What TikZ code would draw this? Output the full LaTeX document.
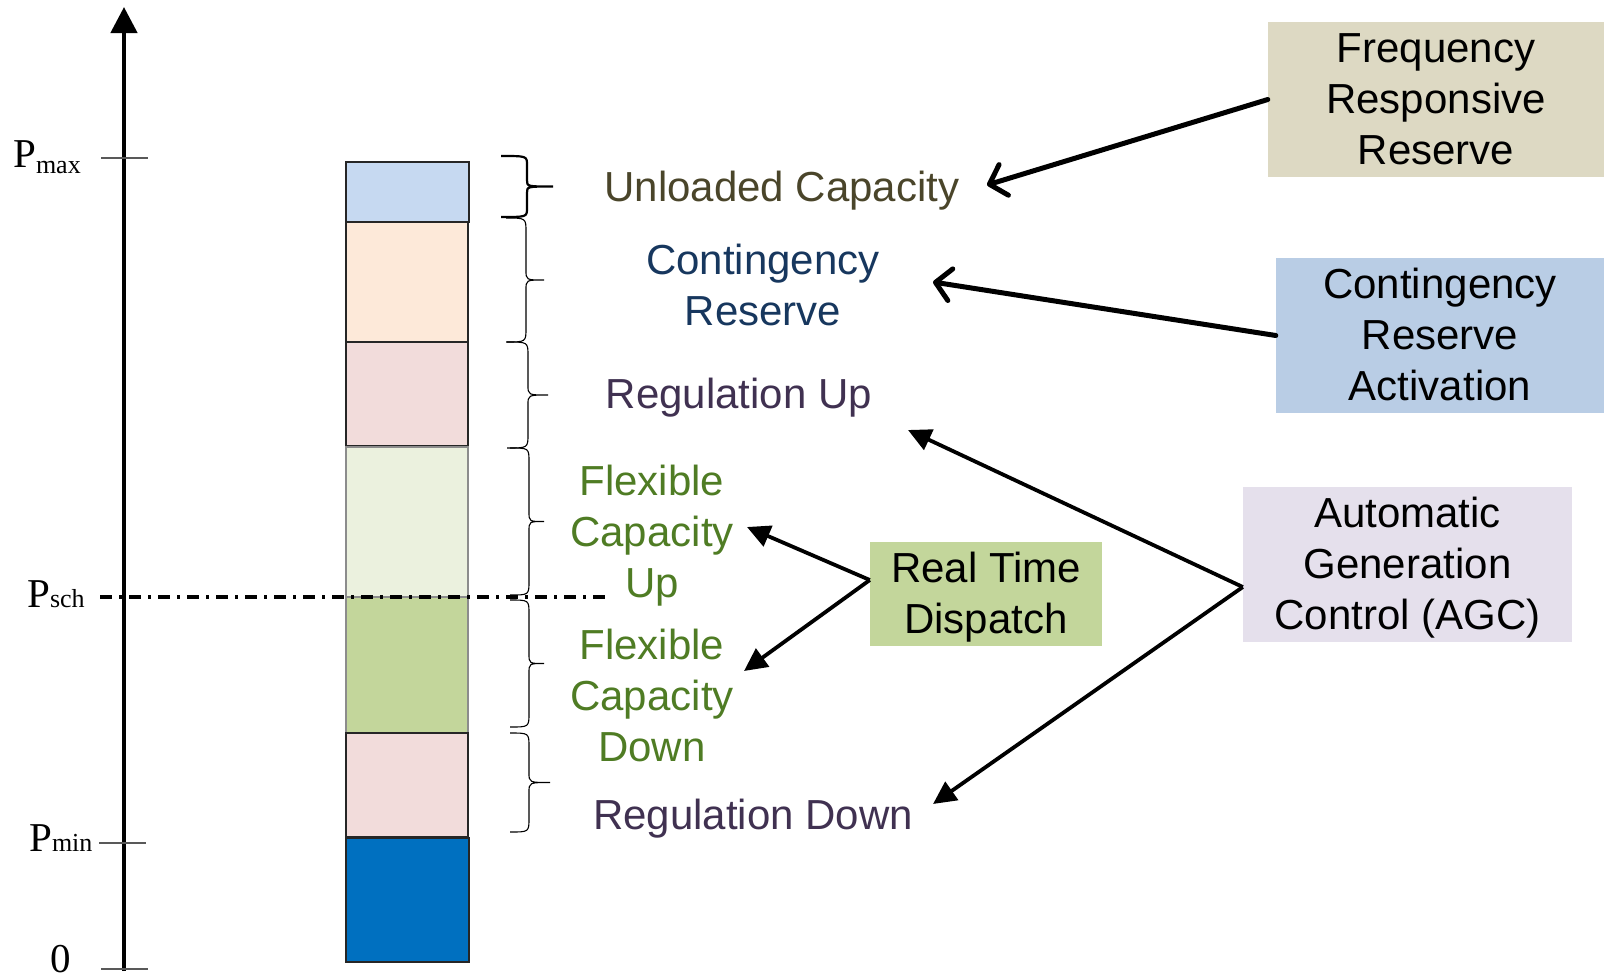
\documentclass[tikz,border=0pt]{standalone}
\usepackage{fontspec}
\setmainfont{Liberation Sans}
\newfontfamily\seriffont{Liberation Serif}
\usetikzlibrary{arrows.meta}

% band fills
\definecolor{capblue}{HTML}{C6D9F1}
\definecolor{peach}{HTML}{FDE9D9}
\definecolor{rose}{HTML}{F2DCDB}
\definecolor{palegreen}{HTML}{EBF1DE}
\definecolor{midgreen}{HTML}{C3D69B}
\definecolor{deepblue}{HTML}{0070C0}
% side boxes
\definecolor{tanbox}{HTML}{DDD9C3}
\definecolor{steelbox}{HTML}{B9CDE5}
\definecolor{lilacbox}{HTML}{E5E0EC}
% label colours
\definecolor{olivetext}{HTML}{4A452A}
\definecolor{navytext}{HTML}{17375E}
\definecolor{plumtext}{HTML}{403151}
\definecolor{greentext}{HTML}{4F7C24}

% P with a subscript lowered by #1
\newcommand{\plab}[2][0pt]{P\raisebox{-#1}{\fontsize{26}{26}\selectfont #2}}

% centred lines inside a process box, set slightly below the box centre
\newcommand{\boxtext}[1]{\raisebox{-4pt}[\height][\depth]{\begin{tabular}{@{}c@{}}#1\end{tabular}}}

% right-pointing curly brace: [opts]{x left}{x spine}{x tip}{top}{bottom}{end radius}
\newcommand{\sidebrace}[7][]{%
  \pgfmathsetmacro\bmid{(#5+#6)/2}%
  \draw[#1] (#2,#5) .. controls (#3,#5) .. (#3,#5+#7)
    -- (#3,\bmid-0.7*#7) .. controls (#3,\bmid) .. (#4,\bmid)
    .. controls (#3,\bmid) .. (#3,\bmid+0.7*#7)
    -- (#3,#6-#7) .. controls (#3,#6) .. (#2,#6);}

\begin{document}
\begin{tikzpicture}[x=1pt,y=-1pt,
  band/.style={draw=black!85, line width=1.3pt},
  lab/.style={font=\fontsize{42}{51}\selectfont, align=center, inner sep=0pt},
  sidebox/.style={font=\fontsize{42}{51}\selectfont, inner sep=0pt, text=black},
  axislab/.style={font=\seriffont\fontsize{41}{41}\selectfont, inner sep=0pt, anchor=base west},
  tickmark/.style={draw=black!65, line width=1.4pt},
  brc/.style={draw=black, line width=1.1pt},
  barb/.style={line width=5pt, line cap=round, -{Straight Barb[length=15pt,width=32pt,round]}},
  tri/.style={line width=3.8pt, -{Triangle[length=23pt,width=22pt]}}]

\useasboundingbox (0,0) rectangle (1604,978);

% power axis
\draw[line width=4.5pt, -{Triangle[length=26pt,width=26pt]}] (124,971) -- (124,7);
\draw[tickmark] (101,158) -- (148,158);
\draw[tickmark] (99,843) -- (146,843);
\draw[tickmark] (101,969) -- (148,969);
\node[axislab] (pmax) at (13,167) {\plab[6pt]{max}};
\node[axislab] (psch) at (27,607) {\plab{sch}};
\node[axislab] (pmin) at (29,851) {\plab{min}};
\node[axislab] (zero) at (50,972) {0};

% capacity stack
\draw[band, fill=capblue]   (346,162) rectangle (469,222);
\draw[band, fill=peach]     (346,222) rectangle (468,342);
\draw[band, fill=rose]      (346,342) rectangle (468,446);
\draw[band, draw=black!45, fill=palegreen] (346,447) rectangle (468,597);
\draw[band, draw=black!45, fill=midgreen]  (346,597) rectangle (468,733);
\draw[band, fill=rose]      (346,733) rectangle (468,837);
\draw[band, fill=deepblue]  (346,838) rectangle (469,962);

% scheduled point
\draw[line width=3.2pt, dash pattern=on 12pt off 7pt on 3pt off 7pt] (100,597) -- (606,597);

% braces
\sidebrace[brc, line width=2.2pt]{501}{527}{553}{156}{217}{9}
\sidebrace[brc]{506}{526}{544}{218}{342}{14}
\sidebrace[brc]{507}{528}{548}{342}{448}{14}
\sidebrace[brc]{510}{529}{544}{448}{595}{14}
\sidebrace[brc]{510}{529}{544}{600}{727}{14}
\sidebrace[brc]{510}{529}{550}{733}{832}{14}

% service labels
\node[lab, text=olivetext, anchor=base] (unl) at (782,201) {Unloaded Capacity};
\node[lab, text=navytext, anchor=north] (cres) at (763,244) {Contingency\\Reserve};
\node[lab, text=plumtext, anchor=base] (regup) at (739,408) {Regulation Up};
\node[lab, text=greentext, anchor=north] (flexup) at (652,465) {Flexible\\Capacity\\Up};
\node[lab, text=greentext, anchor=north] (flexdn) at (652,629) {Flexible\\Capacity\\Down};
\node[lab, text=plumtext, anchor=base] (regdn) at (753,829) {Regulation Down};

% control processes
\node[sidebox, fill=tanbox, minimum width=336pt, minimum height=155pt] (frr) at (1436,99.5) {\boxtext{Frequency\\Responsive\\Reserve}};
\node[sidebox, fill=steelbox, minimum width=328pt, minimum height=155pt] (cra) at (1440,335.5) {\boxtext{Contingency\\Reserve\\Activation}};
\node[sidebox, fill=lilacbox, minimum width=329pt, minimum height=155pt] (agc) at (1407.5,564.5) {\boxtext{Automatic\\Generation\\Control (AGC)}};
\node[sidebox, fill=midgreen, minimum width=232pt, minimum height=104pt] (rtd) at (986,594) {\boxtext{Real Time\\Dispatch}};

% arrow targets
\coordinate (unltip) at (987,185);
\coordinate (crestip) at (933,282);
\coordinate (reguptip) at (908,430);
\coordinate (regdntip) at (933,804);
\coordinate (flexuptip) at (747,527);
\coordinate (flexdntip) at (744,671);

\draw[barb] (frr.west) -- (unltip);
\draw[barb] (cra.west) -- (crestip);
\draw[tri] ([yshift=-22.5pt]agc.west) -- (reguptip);
\draw[tri] ([yshift=-22.5pt]agc.west) -- (regdntip);
\draw[tri] ([yshift=14pt]rtd.west) -- (flexuptip);
\draw[tri] ([yshift=14pt]rtd.west) -- (flexdntip);
\end{tikzpicture}
\end{document}
